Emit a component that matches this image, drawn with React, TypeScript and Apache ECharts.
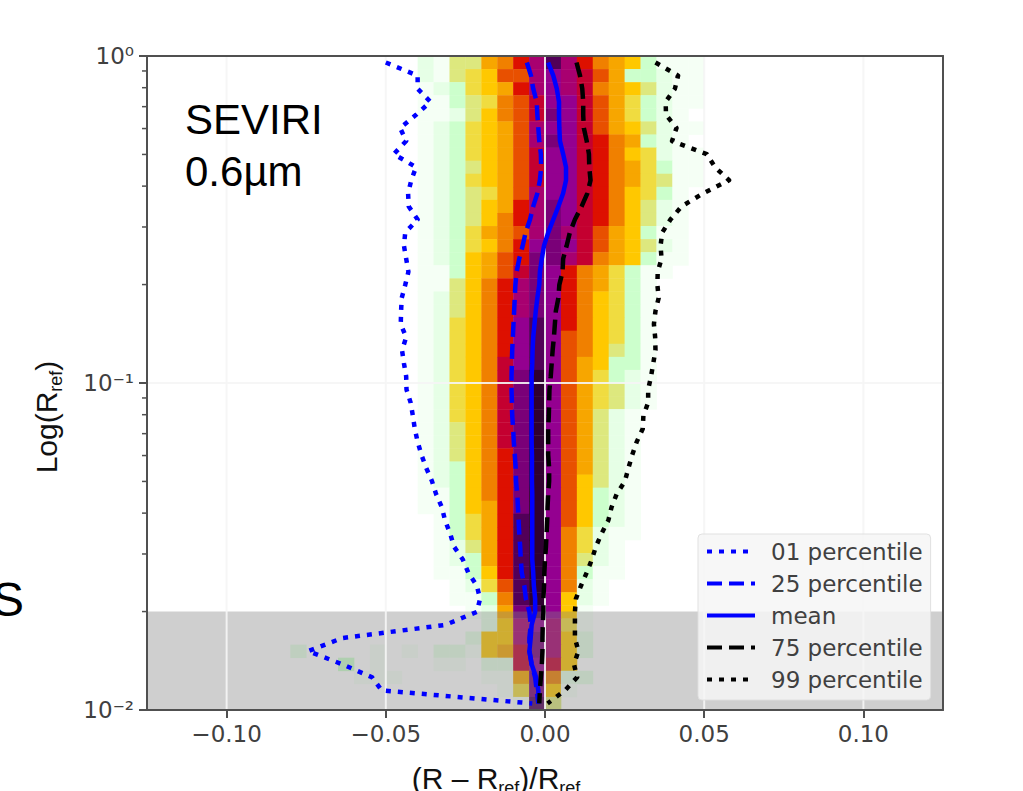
import React, { useEffect, useRef } from "react";
import * as echarts from "echarts";

const X_TICKS = [-0.1, -0.05, 0, 0.05, 0.1];
const GRID_X = [-0.1, -0.05, 0, 0.05, 0.1];
const GRID_Y = [0.1];
const Y_TICK_LABELS: Record<string, string> = { "-2": "10⁻²", "-1": "10⁻¹", "0": "10⁰" };
const Y_MINOR = [0.02, 0.03, 0.04, 0.05, 0.06, 0.07, 0.08, 0.09, 0.2, 0.3, 0.4, 0.5, 0.6, 0.7, 0.8, 0.9];
const SHADE_BOX = [[-0.125, 0.01, 0.125, 0.02]];

const PALETTE = [
  "#ffffff", "#f5fff5", "#e6ffe6", "#ccffcc", "#dde87e", "#f0dc40", "#ffc800", "#f7a600", "#f08000",
  "#e85000", "#dd1000", "#c40030", "#a80070", "#940090", "#7a0078", "#520058", "#300030",
];

// Rows from the top of the plot; columns start at bin 15 (x = -0.05).
const FIRST_COL = 15;
const HEAT_ROWS = [
  [0,0,2,1,4,4,7,8,10,12,15,12,10,8,7,6,3,1,1,1,0],
  [0,0,2,1,4,5,6,9,9,12,13,12,11,9,7,3,3,2,1,1,0],
  [0,0,1,2,3,5,6,7,10,12,13,12,11,8,7,6,4,2,1,1,0],
  [0,0,1,1,3,4,5,8,9,11,13,13,11,9,7,5,3,2,1,1,0],
  [0,0,1,1,2,4,6,8,9,11,14,13,11,9,7,5,3,2,1,0,0],
  [0,0,1,2,3,5,6,7,9,12,13,13,11,9,7,6,4,2,1,1,0],
  [0,0,1,2,3,5,6,7,9,12,14,13,11,10,8,7,3,2,1,0,0],
  [0,0,1,2,3,5,6,7,9,11,13,13,11,10,8,6,5,2,1,1,0],
  [0,0,1,2,3,4,6,7,9,11,13,13,11,10,8,7,5,3,1,1,0],
  [0,0,1,2,3,5,6,7,9,11,13,13,11,10,8,7,5,4,1,1,0],
  [0,0,1,2,3,4,5,7,9,12,13,13,11,10,8,6,5,3,1,0,0],
  [0,0,1,2,3,4,6,7,10,12,14,13,11,10,8,6,4,2,1,0,0],
  [0,0,1,2,3,4,6,8,10,12,14,13,11,10,8,6,4,2,1,0,0],
  [0,0,1,2,3,5,7,8,9,12,14,12,11,9,7,6,3,1,1,0,0],
  [0,0,1,2,3,5,6,8,10,13,14,13,11,9,7,6,4,2,1,0,0],
  [0,0,1,2,3,6,7,9,10,14,14,12,11,8,7,6,3,1,1,0,0],
  [0,0,1,1,3,6,7,9,11,14,13,10,8,7,5,3,1,1,0,0,0],
  [0,0,1,1,4,6,8,10,12,14,13,10,8,7,5,3,1,0,0,0,0],
  [0,0,1,2,4,6,8,10,12,14,13,10,8,6,5,3,1,0,0,0,0],
  [0,0,1,2,4,6,8,10,12,14,13,10,8,6,5,3,1,0,0,0,0],
  [0,0,1,2,5,6,8,10,13,15,13,10,8,6,5,3,1,0,0,0,0],
  [0,0,1,2,5,6,8,10,13,15,13,9,8,6,5,3,1,0,0,0,0],
  [0,0,1,2,5,6,8,10,13,15,13,9,8,6,4,3,1,0,0,0,0],
  [0,0,1,2,5,6,8,11,13,15,13,9,7,6,3,3,1,0,0,0,0],
  [0,0,1,2,5,6,8,11,14,16,13,9,7,5,3,2,1,0,0,0,0],
  [0,0,1,2,5,6,8,11,14,16,13,9,7,5,4,2,1,0,0,0,0],
  [0,0,1,2,5,6,8,11,14,16,13,9,7,5,4,2,1,0,0,0,0],
  [0,0,1,2,5,6,8,11,14,16,13,9,7,4,2,1,0,0,0,0,0],
  [0,0,1,2,4,6,8,11,14,16,13,9,7,4,2,1,0,0,0,0,0],
  [0,0,1,2,4,6,8,11,14,16,13,9,7,4,2,1,0,0,0,0,0],
  [0,0,1,2,4,6,8,10,14,16,13,9,7,4,2,1,0,0,0,0,0],
  [0,0,1,2,3,6,8,10,14,16,13,9,7,4,2,1,0,0,0,0,0],
  [0,0,1,2,3,6,8,10,14,16,13,9,6,4,2,1,0,0,0,0,0],
  [0,0,1,1,3,6,8,10,14,16,13,9,6,3,2,1,0,0,0,0,0],
  [0,0,1,1,3,6,7,10,14,16,13,9,6,3,2,1,0,0,0,0,0],
  [0,0,0,1,3,5,7,10,15,16,13,9,6,3,2,1,0,0,0,0,0],
  [0,0,0,1,3,5,7,10,15,16,13,8,5,2,1,1,0,0,0,0,0],
  [0,0,0,1,2,4,7,10,15,16,13,8,5,2,1,0,0,0,0,0,0],
  [0,0,0,1,2,3,7,10,15,16,13,8,4,2,1,0,0,0,0,0,0],
  [0,0,0,1,1,3,6,10,15,16,13,8,3,1,1,0,0,0,0,0,0],
  [0,0,0,0,1,2,5,9,15,16,13,8,2,1,0,0,0,0,0,0,0],
  [0,0,0,0,1,1,3,8,15,16,13,6,2,1,0,0,0,0,0,0,0],
  [0,0,0,0,0,1,2,7,14,15,13,6,1,0,0,0,0,0,0,0,0],
  [0,0,0,0,0,0,2,6,12,13,12,5,1,0,0,0,0,0,0,0,0],
  [0,0,0,0,0,2,6,6,12,14,12,6,2,0,0,0,0,0,0,0,0],
  [0,1,0,2,2,1,6,7,11,14,12,6,2,0,0,0,0,0,0,0,0],
  [0,0,0,1,1,0,2,2,11,13,11,6,0,0,0,0,0,0,0,0,0],
  [1,0,0,0,0,0,1,1,7,14,8,2,2,0,0,0,0,0,0,0,0],
  [0,0,0,0,0,0,0,1,5,14,6,1,0,0,0,0,0,0,0,0,0],
  [0,0,0,0,0,0,0,0,1,15,4,0,0,0,0,0,0,0,0,0,0],
];
// [column, row from top, level] of the faint outlying bins
const STRAY_CELLS = [[9, 45, 2], [12, 46, 3], [14, 45, 1], [14, 46, 1], [14, 47, 1], [13, 47, 1]];

// Line values, one per row, from the top of the plot
const P01 = [
  -0.05, -0.04, -0.04, -0.036, -0.0405, -0.0455, -0.0436, -0.0475, -0.0405, -0.042, -0.043, -0.0428, -0.04, -0.0439,
  -0.0443, -0.0436, -0.0429, -0.0439, -0.045, -0.0452, -0.0453, -0.0436, -0.0449, -0.0443, -0.0436, -0.0435, -0.0422,
  -0.0415, -0.0409, -0.04, -0.0388, -0.0373, -0.0355, -0.0342, -0.0324, -0.0314, -0.0298, -0.0286, -0.0258, -0.0241,
  -0.0214, -0.0204, -0.0214, -0.0314, -0.0637, -0.0744, -0.0637, -0.0543, -0.0513, -0.004,
];
const P25 = [
  -0.0057, -0.0044, -0.0037, -0.0026, -0.0024, -0.0021, -0.0018, -0.0013, -0.0012, -0.0016, -0.0024, -0.0037, -0.0047,
  -0.0061, -0.007, -0.0081, -0.0089, -0.0093, -0.0095, -0.0097, -0.0099, -0.0101, -0.0103, -0.0104, -0.0105, -0.0105,
  -0.0104, -0.0103, -0.01, -0.0098, -0.0095, -0.0092, -0.0091, -0.0087, -0.0085, -0.0083, -0.0081, -0.0078, -0.0076,
  -0.0073, -0.0065, -0.006, -0.0049, -0.0045, -0.0049, -0.0049, -0.0042, -0.0031, -0.0026, -0.0021,
];
const MEAN = [
  0.001, 0.0026, 0.0037, 0.0044, 0.0044, 0.0045, 0.0047, 0.0057, 0.0066, 0.0066, 0.0057, 0.0042, 0.0026, 0.001, -0.0003,
  -0.001, -0.0016, -0.0018, -0.0024, -0.0029, -0.0033, -0.0037, -0.0039, -0.004, -0.0042, -0.0042, -0.0042, -0.0042,
  -0.0042, -0.0042, -0.0041, -0.0041, -0.0041, -0.004, -0.004, -0.004, -0.004, -0.004, -0.004, -0.0037, -0.0035, -0.0031,
  -0.0031, -0.0042, -0.0045, -0.0049, -0.0042, -0.0028, -0.0021, -0.0021,
];
const P75 = [
  0.0099, 0.011, 0.0117, 0.012, 0.012, 0.0122, 0.0131, 0.0138, 0.0139, 0.0143, 0.0133, 0.0115, 0.0094, 0.0078, 0.0068,
  0.0057, 0.0055, 0.0045, 0.0042, 0.0034, 0.0031, 0.0028, 0.0024, 0.0021, 0.0018, 0.0014, 0.0013, 0.0012, 0.001, 0.001,
  0.001, 0.0013, 0.0013, 0.001, 0.0008, 0.0007, 0.0005, 0.0003, 0, -0.0002, -0.0003, -0.0005, -0.0005, -0.0007, -0.0008,
  -0.0008, -0.001, -0.0013, -0.0016, -0.0018,
];
const P99 = [
  0.0347, 0.0418, 0.0408, 0.0379, 0.038, 0.0413, 0.0399, 0.0508, 0.0534, 0.0578, 0.0497, 0.0429, 0.0394, 0.0368, 0.0363,
  0.0366, 0.0354, 0.0353, 0.0357, 0.0347, 0.0342, 0.0346, 0.0347, 0.034, 0.0333, 0.0324, 0.0324, 0.0309, 0.0307, 0.0288,
  0.0274, 0.0262, 0.0251, 0.0225, 0.0209, 0.0199, 0.0178, 0.016, 0.0147, 0.0131, 0.0113, 0.0097, 0.0094, 0.0094, 0.0094,
  0.0105, 0.0091, 0.0101, 0.0063, 0.0008,
];

const BIN_X = 0.005;
const X_MIN = -0.125;
const LOG_STEP = 0.04;
const rowEdge = (fromTop: number) => Math.pow(10, -LOG_STEP * fromTop);
const rowCentre = (fromTop: number) => Math.pow(10, -LOG_STEP * (fromTop + 0.5));
const lineData = (vals: number[]) => vals.map((v, j) => [v, rowCentre(j)]);

function heatCells() {
  const cells: number[][] = [];
  const push = (col: number, row: number, level: number) => {
    const x0 = X_MIN + col * BIN_X;
    cells.push([x0, rowEdge(row + 1), x0 + BIN_X, rowEdge(row), level]);
  };
  HEAT_ROWS.forEach((r, j) =>
    r.forEach((lv, i) => {
      if (lv > 0) push(FIRST_COL + i, j, lv);
    })
  );
  STRAY_CELLS.forEach(([c, r, l]) => push(c, r, l));
  return cells;
}

const boxItem = (fill: string) => (_: any, api: any) => {
  const a = api.coord([api.value(0), api.value(3)]);
  const b = api.coord([api.value(2), api.value(1)]);
  return {
    type: "rect",
    shape: { x: a[0], y: a[1], width: b[0] - a[0], height: b[1] - a[1] },
    style: { fill },
  };
};

const TEXT = "#404040";
const LABEL_RICH = {
  a: { font: '30px "Liberation Sans"', fill: "#111", lineHeight: 38 },
  b: { font: '18px "Liberation Sans"', fill: "#111", verticalAlign: "bottom" },
};

export default function App() {
  const ref = useRef<HTMLDivElement>(null);
  useEffect(() => {
    document.body.style.margin = "0";
    const chart = echarts.init(ref.current!, undefined, { renderer: "svg" });
    const lineSeries = (name: string, vals: number[], color: string, type: any) => ({
      name,
      type: "line",
      data: lineData(vals),
      symbol: "none",
      z: 6,
      silent: true,
      lineStyle: { color, width: 4.5, type, cap: "butt", join: "round" },
      itemStyle: { color },
    });
    chart.setOption({
      animation: false,
      backgroundColor: "#ffffff",
      grid: { left: 147, right: 80, top: 56, bottom: 81, show: false },
      xAxis: [
        {
          type: "value",
          min: X_MIN,
          max: 0.125,
          z: 5,
          splitLine: { show: false },
          axisLine: { show: true, onZero: false, lineStyle: { color: "#505050", width: 2 } },
          axisTick: { show: true, customValues: X_TICKS, length: 8, lineStyle: { color: "#505050", width: 2 } },
          axisLabel: {
            customValues: X_TICKS,
            margin: 12,
            fontFamily: "DejaVu Sans",
            fontSize: 23,
            color: TEXT,
            formatter: (v: number) => (v < 0 ? "\u2212" : "") + Math.abs(v).toFixed(2),
          },
        },
        {
          type: "value",
          position: "top",
          min: X_MIN,
          max: 0.125,
          z: 7,
          splitLine: { show: false },
          axisLine: { show: true, onZero: false, lineStyle: { color: "#505050", width: 2 } },
          axisTick: { show: false },
          axisLabel: { show: false },
        },
      ],
      yAxis: [
        {
          type: "log",
          logBase: 10,
          min: 0.01,
          max: 1,
          z: 5,
          splitLine: { show: false },
          minorTick: { show: false },
          axisLine: { show: true, onZero: false, lineStyle: { color: "#505050", width: 2 } },
          axisTick: { show: true, length: 8, lineStyle: { color: "#505050", width: 2 } },
          axisLabel: {
            margin: 13,
            fontFamily: "DejaVu Sans",
            fontSize: 23,
            color: TEXT,
            formatter: (v: number) => Y_TICK_LABELS[String(Math.round(Math.log10(v)))],
          },
        },
        {
          type: "log",
          logBase: 10,
          position: "right",
          min: 0.01,
          max: 1,
          z: 7,
          splitLine: { show: false },
          axisLine: { show: true, onZero: false, lineStyle: { color: "#505050", width: 2 } },
          axisTick: { show: false },
          axisLabel: { show: false },
        },
      ],
      legend: {
        left: 698,
        top: 534,
        orient: "vertical",
        itemWidth: 48,
        itemHeight: 14,
        itemGap: 9,
        padding: [6, 8, 9, 7],
        backgroundColor: "rgba(246,246,246,0.85)",
        borderColor: "rgba(222,222,222,0.9)",
        borderWidth: 1,
        borderRadius: 4,
        z: 10,
        itemStyle: { color: "transparent", borderColor: "transparent", borderWidth: 0, opacity: 0 },
        lineStyle: { width: 4 },
        textStyle: { fontFamily: "DejaVu Sans", fontSize: 23, color: TEXT, lineHeight: 23, padding: [0, 0, 0, 11] },
        data: ["01 percentile", "25 percentile", "mean", "75 percentile", "99 percentile"],
      },
      graphic: [
        {
          type: "text",
          left: 185,
          top: 98,
          z: 20,
          style: { text: "SEVIRI", fill: "#000", font: '42px "Liberation Sans"' },
        },
        {
          type: "text",
          left: 185,
          top: 150,
          z: 20,
          style: { text: "0.6µm", fill: "#000", font: '42px "Liberation Sans"' },
        },
        {
          type: "text",
          left: -8,
          top: 575,
          z: 20,
          style: { text: "S", fill: "#000", font: '48px "Liberation Sans"' },
        },
        {
          type: "text",
          x: 496,
          y: 778,
          z: 20,
          style: {
            text: "{a|(R – R}{b|ref}{a|)/R}{b|ref}",
            align: "center",
            verticalAlign: "middle",
            rich: LABEL_RICH,
          },
        },
        {
          type: "text",
          x: 46,
          y: 417,
          rotation: Math.PI / 2,
          z: 20,
          style: {
            text: "{a|Log(R}{b|ref}{a|)}",
            align: "center",
            verticalAlign: "middle",
            rich: LABEL_RICH,
          },
        },
      ],
      series: [
        {
          type: "custom",
          z: 2,
          silent: true,
          data: heatCells(),
          encode: { x: [0, 2], y: [1, 3] },
          renderItem: (_: any, api: any) => {
            const a = api.coord([api.value(0), api.value(3)]);
            const b = api.coord([api.value(2), api.value(1)]);
            return {
              type: "rect",
              shape: { x: a[0], y: a[1], width: b[0] - a[0] + 0.4, height: b[1] - a[1] + 0.4 },
              style: { fill: PALETTE[api.value(4)] },
            };
          },
        },
        {
          type: "custom",
          z: 3,
          silent: true,
          data: SHADE_BOX,
          encode: { x: [0, 2], y: [1, 3] },
          renderItem: boxItem("rgba(128,128,128,0.38)"),
        },
        {
          type: "custom",
          z: 4,
          silent: true,
          data: GRID_X.map((x) => [x]),
          encode: { x: 0 },
          renderItem: (_: any, api: any) => {
            const a = api.coord([api.value(0), 1]);
            const b = api.coord([api.value(0), 0.01]);
            return {
              type: "line",
              shape: { x1: a[0], y1: a[1], x2: b[0], y2: b[1] },
              style: { stroke: "rgba(245,245,245,0.9)", lineWidth: 2 },
            };
          },
        },
        {
          type: "custom",
          z: 4,
          silent: true,
          data: GRID_Y.map((y) => [y]),
          encode: { y: 0 },
          renderItem: (_: any, api: any) => {
            const a = api.coord([X_MIN, api.value(0)]);
            const b = api.coord([0.125, api.value(0)]);
            return {
              type: "line",
              shape: { x1: a[0], y1: a[1], x2: b[0], y2: b[1] },
              style: { stroke: "rgba(245,245,245,0.9)", lineWidth: 2 },
            };
          },
        },
        {
          type: "custom",
          z: 5,
          silent: true,
          clip: false,
          data: Y_MINOR.map((y) => [y]),
          encode: { y: 0 },
          renderItem: (_: any, api: any) => {
            const a = api.coord([X_MIN, api.value(0)]);
            return {
              type: "line",
              shape: { x1: a[0] - 5, y1: a[1], x2: a[0], y2: a[1] },
              style: { stroke: "#505050", lineWidth: 1.5 },
            };
          },
        },
        lineSeries("01 percentile", P01, "#0000ff", [5, 7]),
        lineSeries("25 percentile", P25, "#0000ff", [15, 7]),
        lineSeries("mean", MEAN, "#0000ff", "solid"),
        lineSeries("75 percentile", P75, "#000000", [15, 7]),
        lineSeries("99 percentile", P99, "#000000", [5, 7]),
      ],
    });
    return () => chart.dispose();
  }, []);
  return (
    <div
      ref={ref}
      style={{ position: "absolute", left: 0, top: 0, width: 1023, height: 791, overflow: "hidden" }}
    />
  );
}
